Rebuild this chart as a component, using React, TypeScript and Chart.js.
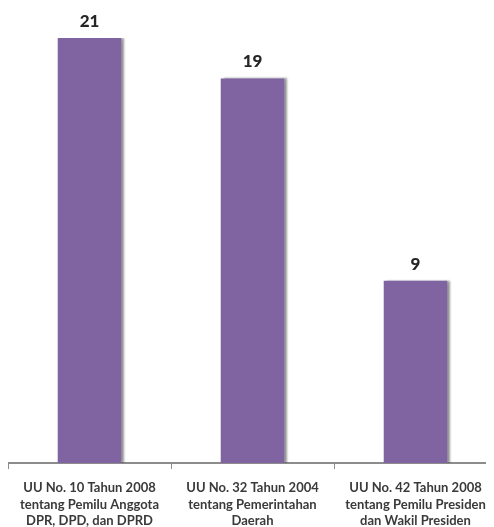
import React, { useEffect, useRef } from "react";
import { Chart, registerables } from "chart.js";

Chart.register(...registerables);

const categories: string[][] = [
  ["UU No. 10 Tahun 2008", "tentang Pemilu Anggota", "DPR, DPD, dan DPRD"],
  ["UU No. 32 Tahun 2004", "tentang Pemerintahan", "Daerah"],
  ["UU No. 42 Tahun 2008", "tentang Pemilu Presiden", "dan Wakil Presiden"],
];
const values: number[] = [21, 19, 9];

const BAR_COLOR = "#8064a2";
const AXIS_COLOR = "#8c8c8c";
const FONT = "Lato, 'Open Sans', sans-serif";

// soft shadow to the right of each bar
const barShadow = {
  id: "barShadow",
  beforeDatasetDraw(chart: any) {
    const ctx = chart.ctx;
    ctx.save();
    ctx.shadowColor = "rgba(0,0,0,0.4)";
    ctx.shadowOffsetX = 3;
    ctx.shadowOffsetY = 0;
    ctx.shadowBlur = 2;
  },
  afterDatasetDraw(chart: any) {
    chart.ctx.restore();
  },
};

// value written above each bar
const valueLabels = {
  id: "valueLabels",
  afterDatasetsDraw(chart: any) {
    const ctx = chart.ctx;
    const meta = chart.getDatasetMeta(0);
    const data = chart.data.datasets[0].data as number[];
    ctx.save();
    ctx.font = `900 17px ${FONT}`;
    ctx.fillStyle = "#262626";
    ctx.textAlign = "center";
    ctx.textBaseline = "bottom";
    meta.data.forEach((bar: any, i: number) => {
      ctx.fillText(String(data[i]), bar.x, bar.y - 8);
    });
    ctx.restore();
  },
};

export default function App() {
  const ref = useRef<HTMLCanvasElement>(null);

  useEffect(() => {
    if (!ref.current) return;
    const chart = new Chart(ref.current, {
      type: "bar",
      data: {
        labels: categories,
        datasets: [
          {
            data: values,
            backgroundColor: BAR_COLOR,
            borderWidth: 0,
            categoryPercentage: 1,
            barPercentage: 0.39,
          },
        ],
      },
      options: {
        animation: false,
        responsive: false,
        devicePixelRatio: 1,
        layout: { padding: { top: 30, left: 0, right: 0, bottom: 0 } },
        plugins: {
          legend: { display: false },
          tooltip: { enabled: false },
        },
        scales: {
          x: {
            afterFit: (s: any) => {
              s.height = 69;
              s.paddingLeft = 0;
              s.paddingRight = 0;
            },
            border: { display: true, color: AXIS_COLOR, width: 2 },
            grid: {
              display: true,
              offset: true,
              drawOnChartArea: false,
              drawTicks: true,
              tickLength: 6,
              color: AXIS_COLOR,
              lineWidth: 1,
            },
            ticks: {
              color: "#3a3a3a",
              font: { family: FONT, size: 13, weight: "bold", lineHeight: 1.27 },
              padding: 11,
              maxRotation: 0,
              autoSkip: false,
            },
          },
          y: {
            display: false,
            min: 0,
            max: 21,
          },
        },
      },
      plugins: [barShadow, valueLabels],
    });
    return () => chart.destroy();
  }, []);

  return (
    <div style={{ width: 486, height: 519, overflow: "hidden" }}>
      <canvas ref={ref} width={489} height={524} style={{ display: "block", width: 489, height: 524 }} />
    </div>
  );
}
